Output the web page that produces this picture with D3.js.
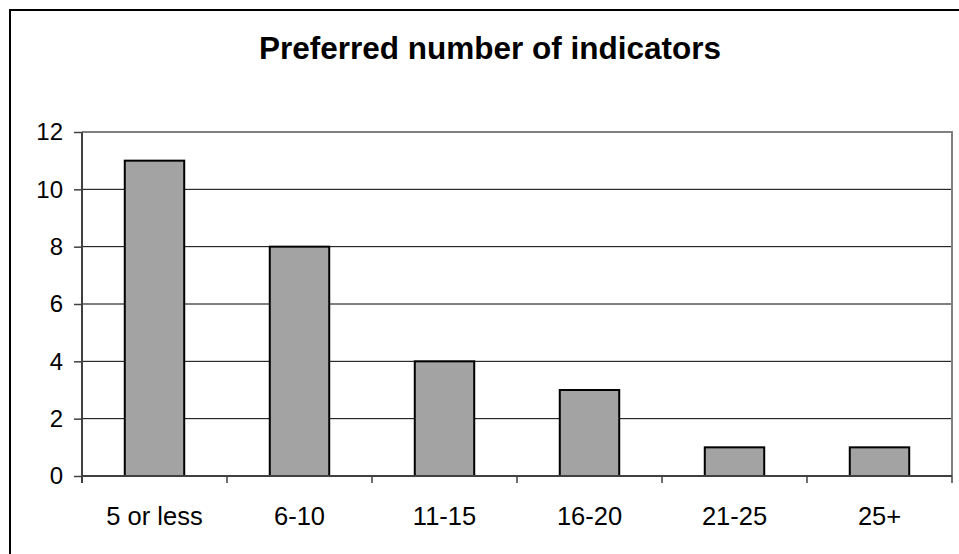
<!DOCTYPE html>
<html>
<head>
<meta charset="utf-8">
<script src="https://cdn.jsdelivr.net/npm/d3@7"></script>
<style>
  body { margin: 0; background: #fff; }
  svg { display: block; font-family: "Liberation Sans", Arial, sans-serif; }
</style>
</head>
<body>
<div id="chart"></div>
<script>
// Preferred number of indicators - column chart
const categories = ["5 or less", "6-10", "11-15", "16-20", "21-25", "25+"];
const counts = [11, 8, 4, 3, 1, 1];
const yTicks = [0, 2, 4, 6, 8, 10, 12];
const title = "Preferred number of indicators";

const width = 959, height = 554;
const plot = { left: 82, right: 952, top: 132, bottom: 476 };

const svg = d3.select("#chart")
    .append("svg")
    .attr("width", width)
    .attr("height", height);

// outer chart frame (runs off the right and bottom edges)
svg.append("rect")
    .attr("x", 10)
    .attr("y", 10)
    .attr("width", width + 20)
    .attr("height", height + 20)
    .attr("fill", "#fff")
    .attr("stroke", "#000")
    .attr("stroke-width", 2);

svg.append("text")
    .attr("x", 490)
    .attr("y", 59)
    .attr("text-anchor", "middle")
    .attr("font-size", "31.5px")
    .attr("font-weight", "bold")
    .text(title);

// category slots (for boundary ticks) and bars
const slot = d3.scaleBand()
    .domain(categories)
    .range([plot.left, plot.right])
    .padding(0);

const x = d3.scaleBand()
    .domain(categories)
    .range([plot.left, plot.right])
    .paddingInner(0.59)
    .paddingOuter(0.295);

const y = d3.scaleLinear()
    .domain([0, 12])
    .range([plot.bottom, plot.top]);

// gridlines
svg.append("g")
    .selectAll("line")
    .data(yTicks.filter((d) => d > 0 && d < 12))
    .join("line")
    .attr("x1", plot.left)
    .attr("x2", plot.right)
    .attr("y1", (d) => y(d))
    .attr("y2", (d) => y(d))
    .attr("stroke", "#000")
    .attr("stroke-width", 1);

// plot area border (top + right) in gray
svg.append("path")
    .attr("d", `M${plot.left},${y(12)}H${plot.right}V${plot.bottom}`)
    .attr("fill", "none")
    .attr("stroke", "#808080")
    .attr("stroke-width", 2);

// bars
svg.append("g")
    .selectAll("rect")
    .data(categories)
    .join("rect")
    .attr("x", (d) => x(d))
    .attr("y", (d, i) => y(counts[i]))
    .attr("width", x.bandwidth())
    .attr("height", (d, i) => y(0) - y(counts[i]))
    .attr("fill", "#a3a3a3")
    .attr("stroke", "#000")
    .attr("stroke-width", 2);

// y axis
const yAxis = d3.axisLeft(y)
    .tickValues(yTicks)
    .tickSize(8)
    .tickPadding(11);

const gy = svg.append("g")
    .attr("transform", `translate(${plot.left},0)`)
    .call(yAxis);
gy.select(".domain")
    .attr("stroke", "#404040")
    .attr("stroke-width", 2)
    .attr("d", `M0,${plot.top}V${plot.bottom + 7}`);
gy.selectAll(".tick line").attr("stroke", "#404040").attr("stroke-width", 1.5);
gy.selectAll(".tick text")
    .attr("font-size", "24px")
    .attr("font-family", "Liberation Sans, Arial, sans-serif")
    .attr("fill", "#000");

// x axis: labels centred on slots, ticks on slot boundaries
const xAxis = d3.axisBottom(slot).tickSize(0).tickPadding(31);
const gx = svg.append("g")
    .attr("transform", `translate(0,${plot.bottom})`)
    .call(xAxis);
gx.select(".domain")
    .attr("stroke", "#404040")
    .attr("stroke-width", 2)
    .attr("d", `M${plot.left},0H${plot.right}`);
gx.selectAll(".tick text")
    .attr("font-size", "25.5px")
    .attr("font-family", "Liberation Sans, Arial, sans-serif")
    .attr("fill", "#000");

const bounds = categories.map((c) => slot(c)).concat([plot.right]);
gx.append("g")
    .selectAll("line")
    .data(bounds)
    .join("line")
    .attr("x1", (d) => d)
    .attr("x2", (d) => d)
    .attr("y1", 0)
    .attr("y2", 7)
    .attr("stroke", "#404040")
    .attr("stroke-width", 1.5);
</script>
</body>
</html>
